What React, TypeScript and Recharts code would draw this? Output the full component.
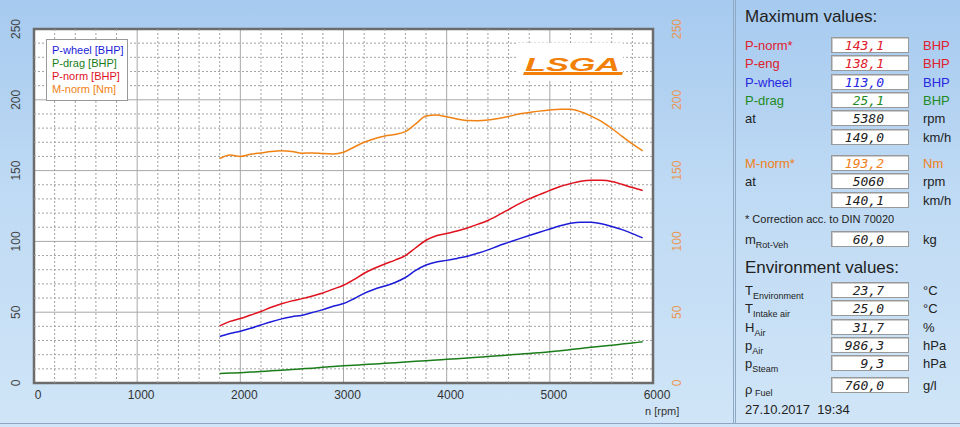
import React from "react";
import {
  LineChart,
  Line,
  XAxis,
  YAxis,
  CartesianGrid,
  ReferenceArea,
  ReferenceLine,
} from "recharts";

// engine speed (rpm)
const rpm = [
  1800, 1900, 2000, 2100, 2200, 2300, 2400, 2500, 2600, 2700, 2800, 2900, 3000, 3100,
  3200, 3300, 3400, 3500, 3600, 3700, 3800, 3900, 4000, 4100, 4200, 4300, 4400, 4500,
  4600, 4700, 4800, 4900, 5000, 5100, 5200, 5300, 5400, 5500, 5600, 5700, 5800, 5900,
];

const pWheel = [
  32.8, 35, 36.6, 38.6, 41, 43.3, 45.3, 46.8, 47.9, 49.8, 51.8, 54.2, 56.1, 59.5,
  63.3, 66.2, 68.5, 71, 74.5, 79.5, 83.3, 85.5, 86.6, 88, 89.5, 91.6, 94, 96.8,
  99.3, 101.8, 104.2, 106.5, 108.7, 111, 112.8, 113.6, 113.5, 112.5, 110.5, 108.3, 105.5, 102.5,
];

const pDrag = [
  6.7, 7.0, 7.3, 7.7, 8.1, 8.6, 9.0, 9.5, 10.0, 10.5, 11.1, 11.6, 12.1, 12.5,
  13.0, 13.4, 13.9, 14.3, 14.8, 15.3, 15.7, 16.2, 16.7, 17.2, 17.7, 18.2, 18.7, 19.2,
  19.8, 20.3, 20.9, 21.4, 22.0, 22.8, 23.6, 24.4, 25.2, 25.9, 26.7, 27.5, 28.3, 29.1,
];

const pNorm = [
  40.3, 43.5, 45.5, 48, 50.5, 53.5, 56, 58, 59.6, 61.5, 63.6, 66.3, 69, 73,
  77.5, 81, 84, 86.8, 90, 95.5, 100.8, 104, 105.6, 107.3, 109.5, 112, 114.8, 118.5,
  122.5, 126.5, 130, 133, 136, 138.8, 140.8, 142.5, 143.2, 143.1, 142.3, 140.3, 138, 136,
];

const mNorm = [
  158.5, 161, 160, 161.5, 162.5, 163.5, 164, 163.5, 162.3, 162.5, 162, 161.8, 163, 166.5,
  170, 172.5, 174.5, 175.5, 177.5, 183, 188.5, 189.2, 188, 186.5, 185.3, 185.2, 185.7, 186.8,
  188.2, 190, 191, 192, 192.8, 193.3, 193.3, 191.6, 188.5, 184.8, 179.8, 174.2, 168.8, 164,
];

const xTicks = [0, 1000, 2000, 3000, 4000, 5000, 6000];
const xMinor = [200, 400, 600, 800, 1200, 1400, 1600, 1800, 2200, 2400, 2600, 2800, 3200, 3400, 3600, 3800, 4200, 4400, 4600, 4800, 5200, 5400, 5600, 5800];
const yTicks = [0, 50, 100, 150, 200, 250];
const yMinor = [10, 20, 30, 40, 60, 70, 80, 90, 110, 120, 130, 140, 160, 170, 180, 190, 210, 220, 230, 240];

const series = [
  { key: "pWheel", name: "P-wheel [BHP]", color: "#1c1cd8" },
  { key: "pDrag", name: "P-drag [BHP]", color: "#1a7d1a" },
  { key: "pNorm", name: "P-norm [BHP]", color: "#e0101c" },
  { key: "mNorm", name: "M-norm [Nm]", color: "#f08214" },
];

const data = rpm.map((r, i) => ({
  rpm: r,
  pWheel: pWheel[i],
  pDrag: pDrag[i],
  pNorm: pNorm[i],
  mNorm: mNorm[i],
}));

// right hand panel
const maxRows = [
  { label: "P-norm*", value: "143,1", unit: "BHP", color: "#e0202c" },
  { label: "P-eng", value: "138,1", unit: "BHP", color: "#e0202c" },
  { label: "P-wheel", value: "113,0", unit: "BHP", color: "#2828e0" },
  { label: "P-drag", value: "25,1", unit: "BHP", color: "#1f8a1f" },
  { label: "at", value: "5380", unit: "rpm", color: "#222" },
  { label: "", value: "149,0", unit: "km/h", color: "#222" },
];
const torqueRows = [
  { label: "M-norm*", value: "193,2", unit: "Nm", color: "#f08020" },
  { label: "at", value: "5060", unit: "rpm", color: "#222" },
  { label: "", value: "140,1", unit: "km/h", color: "#222" },
];
const envRows = [
  { sym: "T", sub: "Environment", value: "23,7", unit: "°C" },
  { sym: "T", sub: "Intake air", value: "25,0", unit: "°C" },
  { sym: "H", sub: "Air", value: "31,7", unit: "%" },
  { sym: "p", sub: "Air", value: "986,3", unit: "hPa" },
  { sym: "p", sub: "Steam", value: "9,3", unit: "hPa" },
];

const FONT = "'Liberation Sans', Arial, sans-serif";

const XTick = (props: any) => {
  const { x, y, payload } = props;
  return (
    <text x={x + 4} y={y + 8} textAnchor="middle" fontSize={12} fill="#333" fontFamily={FONT}>
      {payload.value}
    </text>
  );
};

const LeftTick = (props: any) => {
  const { y, payload } = props;
  return (
    <text
      x={20}
      y={y}
      transform={`rotate(-90, 20, ${y})`}
      textAnchor="middle"
      fontSize={12}
      fill="#444"
      fontFamily={FONT}
    >
      {payload.value}
    </text>
  );
};

const RightTick = (props: any) => {
  const { y, payload } = props;
  return (
    <text
      x={681}
      y={y}
      transform={`rotate(-90, 681, ${y})`}
      textAnchor="middle"
      fontSize={12}
      fill="#ec9650"
      fontFamily={FONT}
    >
      {payload.value}
    </text>
  );
};

const LegendBox = () => (
  <div
    style={{
      position: "absolute",
      left: 46,
      top: 39,
      width: 82,
      height: 62,
      background: "#fff",
      border: "1px solid #999",
      fontFamily: FONT,
      fontSize: 11,
      lineHeight: "13px",
      padding: "4px 0 0 5px",
      boxSizing: "border-box",
    }}
  >
    {series.map((s) => (
      <div key={s.key} style={{ color: s.color }}>
        {s.name}
      </div>
    ))}
  </div>
);

const ValueBox = ({ value, color }: { value: string; color: string }) => (
  <div
    style={{
      position: "absolute",
      left: 95,
      width: 78,
      height: 16,
      background: "#fff",
      border: "1px solid #999",
      boxShadow: "inset 1px 1px 0 #ccc",
      color,
      fontFamily: "'DejaVu Sans Mono', monospace",
      fontStyle: "italic",
      fontSize: 13,
      lineHeight: "15px",
      textAlign: "right",
      paddingRight: 24,
      boxSizing: "border-box",
    }}
  >
    {value}
  </div>
);

const Row = ({ top, label, value, unit, color, valueColor }: any) => (
  <div style={{ position: "absolute", top, left: 0, width: 222, height: 17 }}>
    <div style={{ position: "absolute", left: 9, top: 1, color, fontSize: 13 }}>{label}</div>
    <ValueBox value={value} color={valueColor} />
    <div style={{ position: "absolute", left: 187, top: 1, color, fontSize: 13 }}>{unit}</div>
  </div>
);

const Panel = () => (
  <div
    style={{
      position: "absolute",
      left: 733,
      top: 0,
      width: 227,
      height: 423,
      borderLeft: "3px double #8fa9c4",
      fontFamily: FONT,
      color: "#222",
    }}
  >
    <div style={{ position: "absolute", left: 9, top: 7, fontSize: 17 }}>Maximum values:</div>
    {maxRows.map((r, i) => (
      <Row
        key={r.label + i}
        top={37 + i * 18.3}
        label={r.label}
        value={r.value}
        unit={r.unit}
        color={r.label === "at" || r.label === "" ? "#222" : r.color}
        valueColor={r.color}
      />
    ))}
    {torqueRows.map((r, i) => (
      <Row
        key={"t" + i}
        top={155 + i * 18.3}
        label={r.label}
        value={r.value}
        unit={r.unit}
        color={r.label === "M-norm*" ? r.color : "#222"}
        valueColor={r.color}
      />
    ))}
    <div style={{ position: "absolute", left: 9, top: 213, fontSize: 11 }}>
      * Correction acc. to DIN 70020
    </div>
    <div style={{ position: "absolute", top: 231, left: 0, width: 222, height: 17 }}>
      <div style={{ position: "absolute", left: 9, top: 1, fontSize: 13 }}>
        m<span style={{ fontSize: 9, position: "relative", top: 4 }}>Rot-Veh</span>
      </div>
      <ValueBox value="60,0" color="#222" />
      <div style={{ position: "absolute", left: 187, top: 1, fontSize: 13 }}>kg</div>
    </div>
    <div style={{ position: "absolute", left: 9, top: 258, fontSize: 17 }}>Environment values:</div>
    {envRows.map((r, i) => (
      <div key={r.sub} style={{ position: "absolute", top: 282 + i * 18.3, left: 0, width: 222, height: 17 }}>
        <div style={{ position: "absolute", left: 9, top: 1, fontSize: 13 }}>
          {r.sym}
          <span style={{ fontSize: 9, position: "relative", top: 4 }}>{r.sub}</span>
        </div>
        <ValueBox value={r.value} color="#222" />
        <div style={{ position: "absolute", left: 187, top: 1, fontSize: 13 }}>{r.unit}</div>
      </div>
    ))}
    <div style={{ position: "absolute", top: 377, left: 0, width: 222, height: 17 }}>
      <div style={{ position: "absolute", left: 9, top: 5, fontSize: 13 }}>
        ρ<span style={{ fontSize: 9, position: "relative", top: 2 }}> Fuel</span>
      </div>
      <ValueBox value="760,0" color="#222" />
      <div style={{ position: "absolute", left: 187, top: 1, fontSize: 13 }}>g/l</div>
    </div>
    <div style={{ position: "absolute", left: 9, top: 402, fontSize: 13 }}>27.10.2017&nbsp;&nbsp;19:34</div>
  </div>
);

const Logo = () => (
  <div style={{ position: "absolute", left: 517, top: 43, width: 106, height: 38, background: "#fff" }}>
    <svg width={106} height={38}>
      <text
        x={8}
        y={28}
        fontFamily={FONT}
        fontWeight="bold"
        fontStyle="italic"
        fontSize={19}
        fill="#f28008"
        textLength={95}
        lengthAdjust="spacingAndGlyphs"
      >
        LSGA
      </text>
      <polygon points="7,29 106,29 105,32 6,32" fill="#f28008" />
    </svg>
  </div>
);

export default function App() {
  return (
    <div
      style={{
        position: "relative",
        width: 960,
        height: 427,
        overflow: "hidden",
        background: "linear-gradient(180deg, #a6caef 0%, #bfdaf4 45%, #d0e5f7 100%)",
        fontFamily: FONT,
      }}
    >
      <style>{"body{margin:0}"}</style>
      <LineChart
        width={735}
        height={427}
        data={data}
        margin={{ top: 29, right: 42, bottom: 14, left: 0 }}
      >
        <XAxis
          dataKey="rpm"
          type="number"
          domain={[0, 6000]}
          ticks={xTicks}
          tick={<XTick />}
          tickLine={false}
          axisLine={false}
          height={30}
          allowDataOverflow
        />
        <YAxis
          type="number"
          domain={[0, 250]}
          ticks={yTicks}
          tick={<LeftTick />}
          tickLine={false}
          axisLine={false}
          width={34}
          allowDataOverflow
        />
        <YAxis
          yAxisId="right"
          orientation="right"
          type="number"
          domain={[0, 250]}
          ticks={yTicks}
          tick={<RightTick />}
          tickLine={false}
          axisLine={false}
          width={40}
          allowDataOverflow
        />
        <CartesianGrid fill="#fff" stroke="#a8a8a8" />
        {/* dotted minor grid */}
        {xMinor.map((v) => (
          <ReferenceLine key={"vx" + v} x={v} stroke="#a2a2a2" strokeWidth={1} strokeDasharray="2 2" ifOverflow="extendDomain" />
        ))}
        {yMinor.map((v) => (
          <ReferenceLine key={"hy" + v} y={v} stroke="#a2a2a2" strokeWidth={1} strokeDasharray="2 2" ifOverflow="extendDomain" />
        ))}
        <ReferenceArea x1={0} x2={6000} y1={0} y2={250} fill="none" stroke="#6c6c6c" strokeWidth={2.5} ifOverflow="visible" />
        {series.map((s) => (
          <Line
            key={s.key}
            dataKey={s.key}
            name={s.name}
            yAxisId={s.key === "mNorm" ? "right" : 0}
            type="monotone"
            stroke={s.color}
            strokeWidth={1.5}
            dot={false}
            isAnimationActive={false}
          />
        ))}
      </LineChart>
      <LegendBox />
      <Logo />
      <div style={{ position: "absolute", left: 645, top: 405, fontSize: 11, color: "#333" }}>n [rpm]</div>
      <div style={{ position: "absolute", left: 0, top: 423, width: 960, height: 1, background: "#8ea6bf" }} />
      <Panel />
    </div>
  );
}
